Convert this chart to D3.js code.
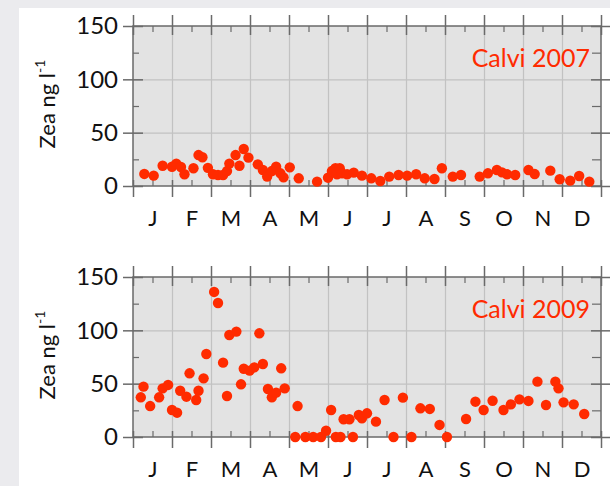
<!DOCTYPE html>
<html>
<head>
<meta charset="utf-8">
<script src="https://cdn.jsdelivr.net/npm/d3@7"></script>
<style>
  body { margin: 0; background: #ebebee; }
  svg { display: block; }
  text { font-family: Lato, "Noto Sans", sans-serif; }
</style>
</head>
<body>
<div id="chart"></div>
<script>
// month labels + y ticks
var months = ["J", "F", "M", "A", "M", "J", "J", "A", "S", "O", "N", "D"];
var yTicks = [0, 50, 100, 150];

// x = time in months since Jan 1, y = Zea ng/l
var x2007 = [0.29, 0.53, 0.76, 1.0, 1.11, 1.23, 1.32, 1.55, 1.68, 1.78, 1.92, 2.05, 2.18, 2.31, 2.41, 2.47,
    2.63, 2.73, 2.84, 2.96, 3.2, 3.33, 3.44, 3.56, 3.67, 3.78, 3.86, 4.02, 4.25, 4.72, 5.0, 5.1, 5.19, 5.23,
    5.3, 5.36, 5.49, 5.66, 5.87, 6.11, 6.34, 6.57, 6.81, 7.03, 7.26, 7.48, 7.73, 7.92, 8.2, 8.41, 8.89, 9.1,
    9.33, 9.46, 9.59, 9.8, 10.14, 10.3, 10.7, 10.94, 11.21, 11.44, 11.7];
var y2007 = [11.3, 9.7, 19, 18, 21, 17.8, 11, 16.6, 29, 27, 17, 11, 10.3, 10.3, 14, 21,
    29, 19, 34.7, 26.6, 20.3, 15, 8.8, 14, 18, 11.9, 8.1, 17.5, 7.2, 4.1, 7.8, 14, 16.6, 11,
    16.6, 11.9, 11, 12.5, 9.7, 7.2, 4.7, 8.8, 10.3, 9.7, 11, 7.2, 6.6, 16.6, 8.8, 10.3, 8.8, 11.9,
    15, 12.8, 11, 10.3, 15, 11.2, 14.4, 6.3, 5, 9.4, 4.1];

var x2009 = [0.2, 0.27, 0.44, 0.67, 0.76, 0.9, 1.0, 1.13, 1.21, 1.37, 1.45, 1.62, 1.68, 1.81, 1.88, 2.08,
    2.18, 2.31, 2.41, 2.47, 2.65, 2.77, 2.84, 2.99, 3.11, 3.24, 3.33, 3.46, 3.56, 3.67, 3.8, 3.89, 4.16, 4.22,
    4.42, 4.62, 4.82, 4.95, 5.08, 5.2, 5.32, 5.4, 5.55, 5.64, 5.79, 5.87, 6.0, 6.23, 6.45, 6.68, 6.92, 7.14,
    7.37, 7.61, 7.86, 8.05, 8.54, 8.78, 8.99, 9.22, 9.5, 9.69, 9.91, 10.14, 10.37, 10.59, 10.83, 10.91, 11.04,
    11.3, 11.57];
var y2009 = [37.2, 47.2, 29, 37.2, 45.6, 48.8, 25.3, 22.8, 43.4, 37.8, 59.7, 34.7, 43.4, 55, 77.8, 136,
    125.6, 69.7, 38.4, 95.6, 98.8, 49.4, 64, 62.2, 65.3, 97.2, 68.4, 45, 37.2, 41.6, 64.4, 45.6, 0, 29,
    0, 0, 0, 5.9, 25.3, 0, 0, 16.6, 16.6, 0, 20.6, 17.5, 22.2, 14.4, 34.7, 0, 36.9, 0,
    26.9, 26.3, 11.3, 0, 16.9, 33.1, 25.3, 34, 25.3, 30.6, 35.3, 33.8, 51.9, 30, 51.9, 45.6, 32.5,
    30.6, 21.6];

var width = 610, height = 486;
var red = "#ff2b00";

var svg = d3.select("#chart").append("svg")
    .attr("width", width)
    .attr("height", height);

// white card
svg.append("rect")
    .attr("x", 19).attr("y", 8)
    .attr("width", width - 19).attr("height", height - 8)
    .attr("fill", "#fff");

var left = 133, right = 601;
var xScale = d3.scaleLinear().domain([0, 12]).range([left, right]);

function drawPanel(top, xs, ys, label) {
    var bottom = top + 160;
    var yScale = d3.scaleLinear().domain([0, 150]).range([bottom, top]);
    var g = svg.append("g");

    g.append("rect")
        .attr("x", left).attr("y", top)
        .attr("width", right - left).attr("height", bottom - top)
        .attr("fill", "#e3e3e3");

    // grid
    g.append("g")
        .attr("transform", "translate(0," + bottom + ")")
        .call(d3.axisBottom(xScale).tickValues(d3.range(1, 12)).tickSize(-(bottom - top)).tickFormat(""))
        .call(function(a) {
            a.select(".domain").remove();
            a.selectAll("line").attr("stroke", "#c2c2c2").attr("stroke-width", 1.2);
        });
    g.append("g")
        .attr("transform", "translate(" + left + ",0)")
        .call(d3.axisLeft(yScale).tickValues([50, 100]).tickSize(-(right - left)).tickFormat(""))
        .call(function(a) {
            a.select(".domain").remove();
            a.selectAll("line").attr("stroke", "#c2c2c2").attr("stroke-width", 1.2);
        });

    // frame
    g.append("rect")
        .attr("x", left).attr("y", top)
        .attr("width", right - left).attr("height", bottom - top)
        .attr("fill", "none")
        .attr("stroke", "#6a6a6a")
        .attr("stroke-width", 1.5);

    // major x ticks, crossing top and bottom
    [bottom, top].forEach(function(yy, i) {
        g.append("g")
            .attr("transform", "translate(0," + yy + ")")
            .call(d3.axisBottom(xScale).tickValues(d3.range(0, 13)).tickFormat(""))
            .call(function(a) {
                a.select(".domain").remove();
                a.selectAll("line")
                    .attr("y1", i === 0 ? -6 : -11)
                    .attr("y2", i === 0 ? 11 : 9)
                    .attr("stroke", "#6a6a6a").attr("stroke-width", 1.5);
            });
        // minor ticks inside
        g.append("g")
            .attr("transform", "translate(0," + yy + ")")
            .call(d3.axisBottom(xScale).tickValues(d3.range(0.5, 12, 1)).tickFormat(""))
            .call(function(a) {
                a.select(".domain").remove();
                a.selectAll("line")
                    .attr("y1", 0)
                    .attr("y2", i === 0 ? -6 : 6)
                    .attr("stroke", "#6a6a6a").attr("stroke-width", 1.2);
            });
    });

    // y ticks, left and right
    [left, right].forEach(function(xx) {
        g.append("g")
            .attr("transform", "translate(" + xx + ",0)")
            .call(d3.axisLeft(yScale).tickValues(yTicks).tickFormat(""))
            .call(function(a) {
                a.select(".domain").remove();
                a.selectAll("line").attr("x1", -10).attr("x2", 10)
                    .attr("stroke", "#6a6a6a").attr("stroke-width", 1.5);
            });
        g.append("g")
            .attr("transform", "translate(" + xx + ",0)")
            .call(d3.axisLeft(yScale).tickValues([25, 75, 125]).tickFormat(""))
            .call(function(a) {
                a.select(".domain").remove();
                a.selectAll("line").attr("x1", 0).attr("x2", xx === left ? 6 : -9)
                    .attr("stroke", "#6a6a6a").attr("stroke-width", 1.2);
            });
    });

    // tick labels
    g.append("g")
        .attr("transform", "translate(" + (left - 10) + ",0)")
        .call(d3.axisLeft(yScale).tickValues(yTicks).tickSize(0).tickPadding(5))
        .call(function(a) {
            a.select(".domain").remove();
            a.selectAll("text").attr("font-size", 24).attr("fill", "#111")
                .style("font-family", "Lato, sans-serif");
        });

    g.append("g")
        .attr("transform", "translate(0," + bottom + ")")
        .call(d3.axisBottom(xScale).tickValues(d3.range(0.5, 12, 1))
            .tickFormat(function(d, i) { return months[i]; })
            .tickSize(0).tickPadding(24))
        .call(function(a) {
            a.select(".domain").remove();
            a.selectAll("text").attr("font-size", 22).attr("fill", "#111")
                .style("font-family", "Lato, sans-serif");
        });

    // y title
    var t = g.append("text")
        .attr("transform", "translate(55," + (top + 78) + ") rotate(-90)")
        .attr("text-anchor", "middle")
        .attr("font-size", 22)
        .attr("fill", "#111")
        .text("Zea ng l");
    t.append("tspan")
        .attr("font-size", 14)
        .attr("dy", -10)
        .text("-1");

    g.append("text")
        .attr("x", 590).attr("y", top + 41)
        .attr("text-anchor", "end")
        .attr("font-size", 25)
        .attr("fill", red)
        .text(label);

    // points
    g.selectAll("circle.pt")
        .data(xs.map(function(d, i) { return [d, ys[i]]; }))
        .enter()
        .append("circle")
        .attr("class", "pt")
        .attr("cx", function(d) { return xScale(d[0]); })
        .attr("cy", function(d) { return yScale(d[1]); })
        .attr("r", 5.2)
        .attr("fill", red);
}

drawPanel(26, x2007, y2007, "Calvi 2007");
drawPanel(277, x2009, y2009, "Calvi 2009");
</script>
</body>
</html>
